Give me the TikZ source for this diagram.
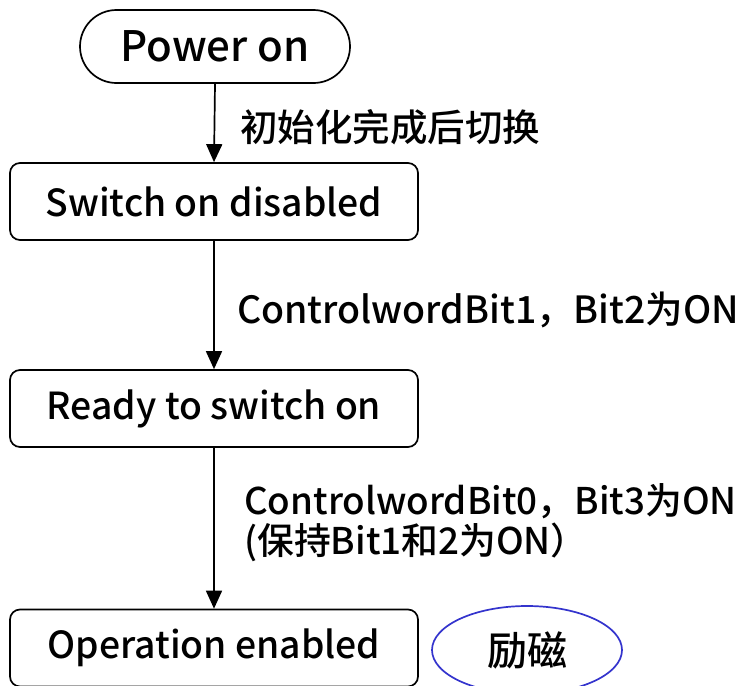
\documentclass[tikz,border=0pt]{standalone}
\usepackage{fontspec}
\setmainfont{Noto Sans CJK SC}[BoldFont={Noto Sans CJK SC Medium}]
\usetikzlibrary{shapes.misc,shapes.geometric,arrows.meta}
\definecolor{ringblue}{RGB}{52,52,205}
\tikzset{
  state/.style={draw, line width=1.7pt, rounded corners=10pt, minimum width=408pt,
    minimum height=77pt, inner sep=0pt, font=\fontsize{37.3}{40}\selectfont\bfseries},
  startnode/.style={draw, line width=1.7pt, rounded rectangle, minimum width=270pt,
    minimum height=73pt, inner sep=0pt, font=\fontsize{42}{46}\selectfont\bfseries},
  flow/.style={line width=1.7pt, -{Triangle[length=18pt,width=16pt]}},
  cond/.style={anchor=west, inner sep=0pt, align=left, font=\fontsize{37.5}{40}\selectfont\bfseries},
  tag/.style={draw=ringblue, line width=1.7pt, ellipse, minimum width=190pt,
    minimum height=88pt, inner sep=0pt, font=\fontsize{40}{44}\selectfont\bfseries}
}
\begin{document}
\begin{tikzpicture}[x=1pt,y=-1pt]
  \useasboundingbox (0,0) rectangle (745,686);
  \node[startnode] (pwr) at (215,46.5) {Power on};
  \node[state] (sod) at (214,201.5) {Switch on disabled};
  \node[state] (rts) at (214,408.5) {Ready to switch on};
  \node[state] (ope) at (214,648) {Operation enabled};
  \node[tag] (exc) at (527,650) {励磁};

  \draw[flow] (pwr.south) -- (sod.north);
  \draw[flow] (sod.south) -- (rts.north);
  \draw[flow] (rts.south) -- (ope.north);

  \node[cond] (c1) at (240,127) {初始化完成后切换};
  \node[cond] (c2) at (237,310) {ControlwordBit1，Bit2为ON};
  \node[cond, font=\fontsize{36.8}{40}\selectfont\bfseries] (c3) at (244,523)
    {ControlwordBit0，Bit3为ON\\(保持Bit1和2为ON）};
\end{tikzpicture}
\end{document}
